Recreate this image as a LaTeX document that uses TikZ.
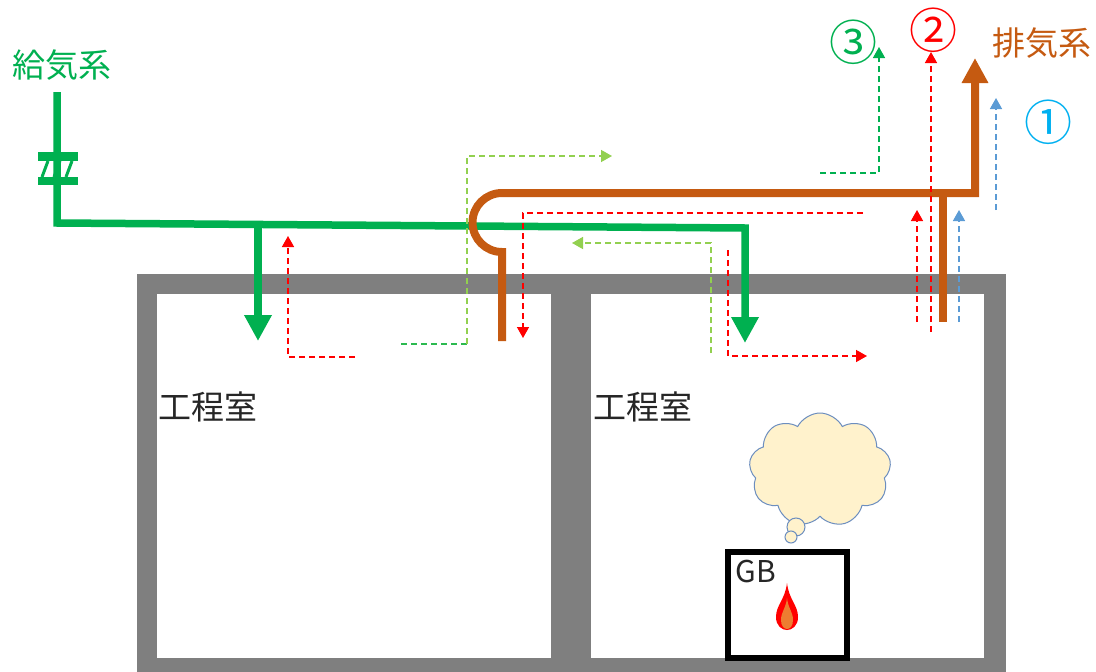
\documentclass[tikz,border=0pt]{standalone}
\usepackage{fontspec}
\setmainfont{Noto Sans CJK JP}
\usepackage{tikz}
\usetikzlibrary{arrows.meta, shapes.symbols}
\definecolor{wall}{HTML}{7F7F7F}
\definecolor{supply}{HTML}{00B050}
\definecolor{exhaust}{HTML}{C55A11}
\definecolor{leak}{HTML}{FF0000}
\definecolor{freshair}{HTML}{92D050}
\definecolor{route}{HTML}{5B9BD5}
\definecolor{skyblue}{HTML}{00B0F0}
\definecolor{smokefill}{HTML}{FFF2CC}
\definecolor{smokeline}{HTML}{6C8EBF}
\definecolor{flamein}{HTML}{ED7D31}

\tikzset{
  duct/.style={line width=7.5pt},
  bigtip/.style={-{Triangle[length=26pt,width=26pt]}},
  flow/.style={line width=1.5pt, dash pattern=on 6pt off 4pt, -{Triangle[length=11pt,width=12pt]}},
  jptext/.style={font=\fontsize{33}{33}\selectfont},
  circnum/.style={font=\fontsize{48}{48}\selectfont},
}

\begin{document}
\begin{tikzpicture}[x=1pt, y=-1pt]
  \useasboundingbox (0,0) rectangle (1096,672);

  % 壁（2室）
  \fill[wall] (137,274) rectangle (1006,672);
  \fill[white] (157,294) rectangle (551,658);
  \fill[white] (591,294) rectangle (984,658);

  % 給気系ダクト
  \draw[duct, supply, bigtip] (57,92) -- (57,223) -- (745,228) -- (745,343);
  \draw[duct, supply, bigtip] (258,224.5) -- (258,341);
  % ダンパ
  \fill[supply] (38,152) rectangle (78,161);
  \fill[supply] (38,177) rectangle (78,185);
  \foreach \x in {42,54,66}
    \draw[supply, line width=3pt] (\x,177) -- (\x+6,161);

  % 排気系ダクト
  \draw[duct, exhaust, line width=8pt, -{Triangle[length=25pt,width=25pt]}]
    (502,341) -- (502,252) arc[start angle=90, end angle=270, radius=29.5]
    -- (975,193) -- (975,58);
  \draw[duct, exhaust, line width=8pt] (943,193) -- (943,322);

  % 漏れ経路
  \draw[flow, leak] (355,357) -- (288,357) -- (288,236);
  \draw[flow, leak] (863,213) -- (523,213) -- (523,338);
  \draw[flow, leak] (728,250) -- (728,356) -- (867,356);
  \draw[flow, leak] (917,322) -- (917,210);
  \draw[flow, leak] (931,332) -- (931,52);
  \draw[flow, route] (959,322) -- (959,210);
  \draw[flow, route] (996,210) -- (996,98);
  \draw[flow, freshair] (711,353) -- (711,243) -- (572,243);
  \draw[flow, supply!70!freshair, -] (401,344) -- (467,344);
  \draw[flow, freshair] (467,344) -- (467,156) -- (612,156);
  \draw[flow, supply] (820,173) -- (879,173) -- (879,47);

  % 煙
  \node[cloud, cloud puffs=9, cloud puff arc=125, cloud ignores aspect,
        draw=smokeline, fill=smokefill, line width=1pt,
        minimum width=142pt, minimum height=114pt] (smoke) at (820,470) {};
  \draw[smokeline, fill=smokefill, line width=1pt] (796,527) circle[radius=9];
  \draw[smokeline, fill=smokefill, line width=1pt] (791,537) circle[radius=6];

  % グローブボックス
  \draw[line width=6pt] (728,552) rectangle (847,658);
  \node[font=\fontsize{30}{30}\selectfont, black!85] (gb) at (756,571) {GB};
  % 炎
  \fill[leak] (787,583) .. controls (789,600) and (798,605) .. (798,617)
    .. controls (798,626) and (792,630) .. (787,630)
    .. controls (782,630) and (776,626) .. (776,617)
    .. controls (776,605) and (785,600) .. cycle;
  \fill[flamein] (787,598) .. controls (788,608) and (793,612) .. (793,620)
    .. controls (793,626) and (790,629) .. (787,629)
    .. controls (784,629) and (781,626) .. (781,620)
    .. controls (781,612) and (786,608) .. cycle;

  % 文字
  \node[jptext, supply] (supplylabel) at (62,65) {給気系};
  \node[jptext, exhaust] (exhaustlabel) at (1042,43) {排気系};
  \node[jptext, black!85] (room1) at (208,407) {工程室};
  \node[jptext, black!85] (room2) at (643,407) {工程室};
  \node[circnum, skyblue] (route1) at (1048,122) {①};
  \node[circnum, leak] (route2) at (933,30) {②};
  \node[circnum, supply] (route3) at (853,42) {③};
\end{tikzpicture}
\end{document}
